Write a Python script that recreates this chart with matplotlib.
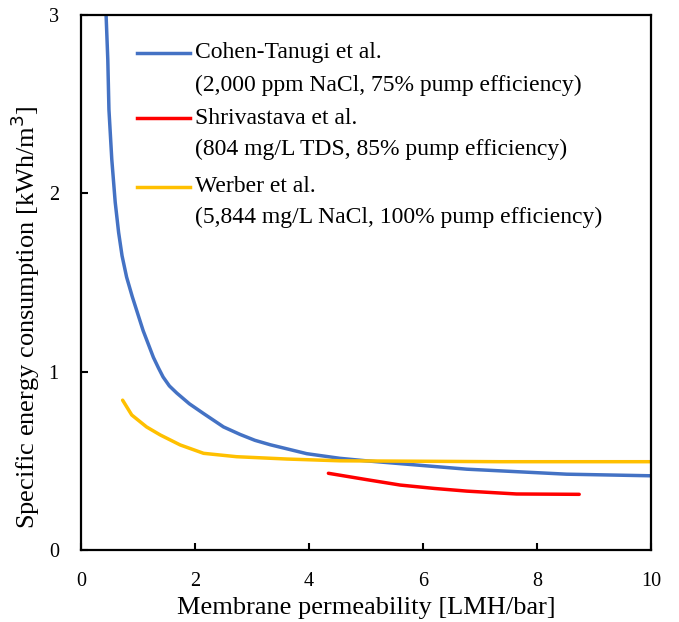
import matplotlib
matplotlib.use('Agg')
import matplotlib.pyplot as plt

cohen_x = [0.44, 0.47, 0.49, 0.54, 0.6, 0.66, 0.72, 0.8, 0.9, 0.98, 1.09, 1.27, 1.36, 1.44,
           1.55, 1.68, 1.9, 2.15, 2.5, 2.79, 3.05, 3.32, 3.96, 4.54, 5.0, 6.77, 8.52, 10.0]
cohen_y = [3.0, 2.75, 2.47, 2.19, 1.95, 1.78, 1.65, 1.53, 1.42, 1.34, 1.23, 1.08, 1.02, 0.97,
           0.92, 0.88, 0.82, 0.765, 0.69, 0.648, 0.615, 0.59, 0.54, 0.514, 0.50, 0.453, 0.425, 0.416]

shri_x = [4.34, 5.0, 5.6, 6.2, 6.77, 7.64, 8.74]
shri_y = [0.43, 0.395, 0.364, 0.345, 0.33, 0.314, 0.312]

werber_x = [0.73, 0.89, 1.15, 1.39, 1.74, 2.15, 2.73, 3.61, 4.54, 7.35, 10.0]
werber_y = [0.84, 0.757, 0.69, 0.645, 0.589, 0.542, 0.523, 0.51, 0.50, 0.495, 0.495]

names = ['Cohen-Tanugi et al.', 'Shrivastava et al.', 'Werber et al.']
notes = ['(2,000 ppm NaCl, 75% pump efficiency)',
         '(804 mg/L TDS, 85% pump efficiency)',
         '(5,844 mg/L NaCl, 100% pump efficiency)']
colors = ['#4472C4', '#FF0000', '#FFC000']

plt.rcParams['font.family'] = ['Liberation Serif', 'DejaVu Serif']

fig = plt.figure(figsize=(6.79, 6.22), dpi=100)
ax = fig.add_axes([0.1193, 0.1158, 0.8395, 0.8601])

series = [(cohen_x, cohen_y), (shri_x, shri_y), (werber_x, werber_y)]
for (xs, ys), c in zip(series, colors):
    ax.plot(xs, ys, color=c, lw=2.5, solid_capstyle='round', solid_joinstyle='round')

ax.set_xlim(0, 10)
ax.set_ylim(0, 3)
ax.set_xticks([0, 2, 4, 6, 8, 10])
ax.set_yticks([0, 1, 2, 3])
ax.tick_params(direction='in', length=5, width=1.5, labelsize=14.5, pad=16)
for s in ax.spines.values():
    s.set_linewidth(1.6)

ax.set_xlabel('Membrane permeability [LMH/bar]', fontsize=19)
ax.set_ylabel('Specific energy consumption [kWh/m$^3$]', fontsize=19)
ax.xaxis.set_label_coords(0.5, -0.087)
ax.yaxis.set_label_coords(-0.068, 0.436)

# hand-made legend: handle sits on the first line of each entry
first_y = [0.929, 0.807, 0.679]
second_y = [0.869, 0.748, 0.622]
for name, note, c, y1, y2 in zip(names, notes, colors, first_y, second_y):
    ax.plot([0.098, 0.191], [y1, y1], color=c, lw=2.5, transform=ax.transAxes)
    ax.text(0.2, y1, name, fontsize=17, va='center', ha='left', transform=ax.transAxes)
    ax.text(0.2, y2, note, fontsize=17, va='center', ha='left', transform=ax.transAxes)

fig.savefig('out.png', dpi=100)
